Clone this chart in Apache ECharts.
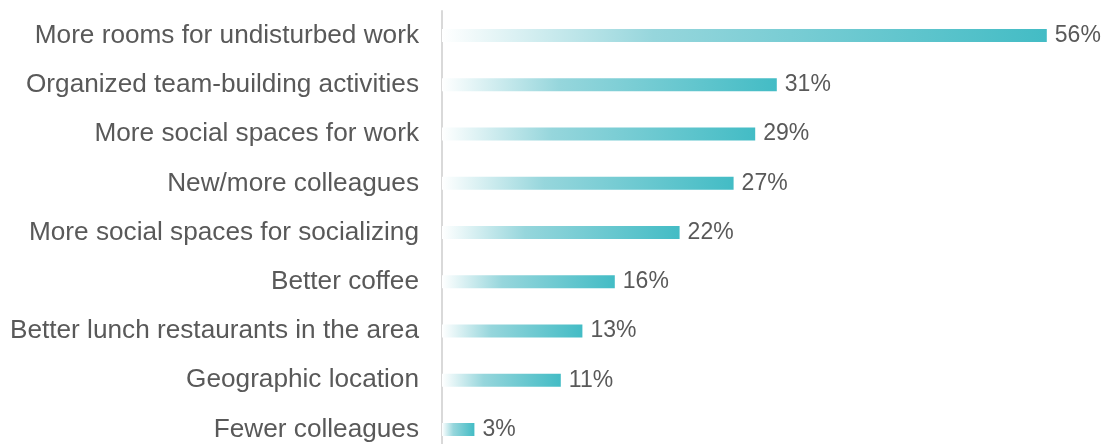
<!DOCTYPE html>
<html>
<head>
<meta charset="utf-8">
<style>
  html, body { margin: 0; padding: 0; background: #ffffff; overflow: hidden; height: 444px; }
  #chart { width: 1102px; height: 456px; }
</style>
<script src="https://cdn.jsdelivr.net/npm/echarts@6/dist/echarts.min.js"></script>
</head>
<body>
<div id="chart"></div>
<script>
// Survey answers: what would make the office a better place to work
const categories = [
  'More rooms for undisturbed work',
  'Organized team-building activities',
  'More social spaces for work',
  'New/more colleagues',
  'More social spaces for socializing',
  'Better coffee',
  'Better lunch restaurants in the area',
  'Geographic location',
  'Fewer colleagues'
];
const shares = [56, 31, 29, 27, 22, 16, 13, 11, 3];

const chart = echarts.init(document.getElementById('chart'), null, { renderer: 'canvas' });

chart.setOption({
  animation: false,
  backgroundColor: '#ffffff',
  // the last row sits partly below the visible area, so the plot runs past the page edge
  grid: { left: 442, right: 12, top: 11, height: 443, containLabel: false },
  xAxis: {
    type: 'value',
    min: 0,
    max: 60,
    show: false
  },
  yAxis: {
    type: 'category',
    data: categories,
    inverse: true,
    axisLine: { show: true, lineStyle: { color: '#d9d9d9', width: 2 } },
    axisTick: { show: false },
    axisLabel: {
      color: '#595959',
      fontFamily: 'Liberation Sans, Arial, sans-serif',
      fontSize: 26.2,
      margin: 23
    },
    splitLine: { show: false }
  },
  series: [{
    type: 'bar',
    data: shares,
    barWidth: 13,
    itemStyle: {
      color: new echarts.graphic.LinearGradient(0, 0, 1, 0, [
        { offset: 0, color: 'rgba(255,255,255,1)' },
        { offset: 0.35, color: '#96d6dc' },
        { offset: 1, color: '#43bcc5' }
      ])
    },
    label: {
      show: true,
      position: 'right',
      distance: 8,
      formatter: '{c}%',
      color: '#595959',
      fontFamily: 'Liberation Sans, Arial, sans-serif',
      fontSize: 23
    }
  }]
});
</script>
</body>
</html>
